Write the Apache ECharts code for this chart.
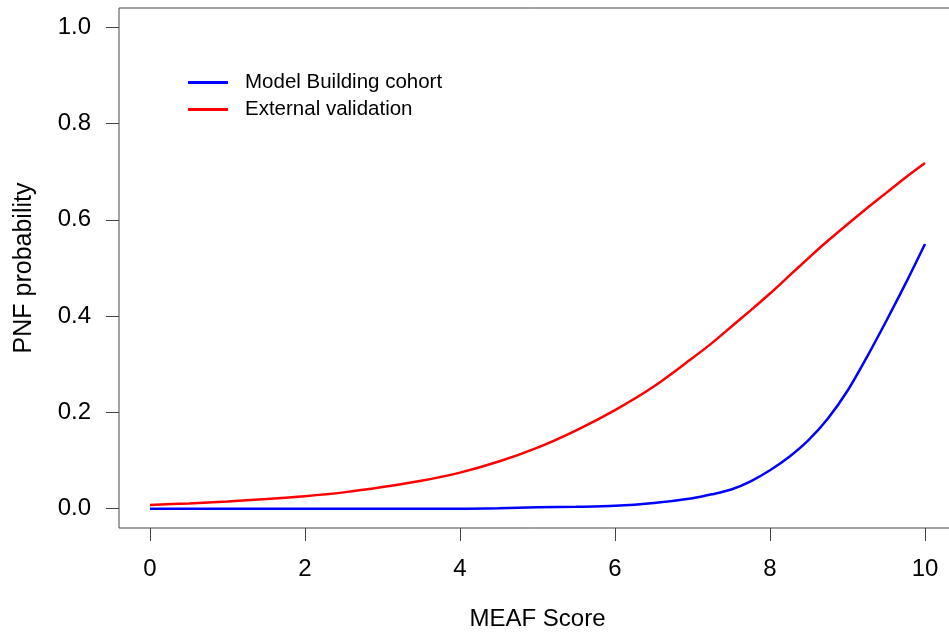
<!DOCTYPE html>
<html>
<head>
<meta charset="utf-8">
<script src="https://cdn.jsdelivr.net/npm/echarts@6/dist/echarts.min.js"></script>
<style>
  html, body { margin:0; padding:0; background:#fff; }
  #chart { width:949px; height:633px; }
</style>
</head>
<body>
<div id="chart"></div>
<script>
// ---- data -----------------------------------------------------------------
const scores = [0, 0.5, 1, 1.5, 2, 2.5, 3, 3.5, 4, 4.5, 5, 5.5, 6, 6.5, 7, 7.25, 7.5, 7.75, 8, 8.25, 8.5, 8.75, 9, 9.25, 9.5, 9.75, 10];
const modelBuilding = [0.000, 0.000, 0.000, 0.000, 0.000, 0.000, 0.000, 0.000, 0.000, 0.001, 0.003, 0.004, 0.006, 0.012, 0.022, 0.030, 0.040, 0.057, 0.080, 0.108, 0.143, 0.188, 0.245, 0.315, 0.390, 0.468, 0.550];
const externalValidation = [0.008, 0.011, 0.015, 0.020, 0.026, 0.034, 0.045, 0.058, 0.075, 0.098, 0.127, 0.163, 0.205, 0.254, 0.313, 0.344, 0.378, 0.412, 0.447, 0.484, 0.521, 0.557, 0.591, 0.624, 0.656, 0.688, 0.718];
const xTicks = [0, 2, 4, 6, 8, 10];
const yTicks = [0, 0.2, 0.4, 0.6, 0.8, 1.0];
const seriesNames = ['Model Building cohort', 'External validation'];

const FONT = '"Liberation Sans", Arial, sans-serif';
const AXIS = '#444';

const chart = echarts.init(document.getElementById('chart'), null, { renderer: 'canvas' });

const pairs = (ys) => scores.map((x, i) => [x, ys[i]]);

chart.setOption({
  backgroundColor: '#fff',
  animation: false,
  // R-style box: axes padded 4% beyond the data range; the box runs off the right edge
  grid: { left: 119, right: -7, top: 8, bottom: 105, show: true, borderColor: AXIS, borderWidth: 1,
    containLabel: false, outerBoundsMode: 'none' },
  legend: {
    orient: 'vertical', left: 183, top: 66,
    icon: 'rect', itemWidth: 40, itemHeight: 3, itemGap: 4,
    data: seriesNames,
    textStyle: { fontFamily: FONT, fontSize: 20.5, lineHeight: 23, color: '#000', padding: [0, 0, 0, 12] }
  },
  xAxis: {
    type: 'value', min: -0.4, max: 10.4,
    name: 'MEAF Score', nameLocation: 'middle', nameGap: 79,
    nameTextStyle: { fontFamily: FONT, fontSize: 24, color: '#000' },
    axisLine: { show: false, onZero: false },
    axisTick: { show: true, length: 13, lineStyle: { color: AXIS }, customValues: xTicks },
    axisLabel: { fontFamily: FONT, fontSize: 24, color: '#000', margin: 29, customValues: xTicks },
    splitLine: { show: false }
  },
  yAxis: {
    type: 'value', min: -0.04, max: 1.04,
    name: 'PNF probability', nameLocation: 'middle', nameGap: 82,
    nameTextStyle: { fontFamily: FONT, fontSize: 25, color: '#000' },
    axisLine: { show: false, onZero: false },
    axisTick: { show: true, length: 13, lineStyle: { color: AXIS }, customValues: yTicks },
    axisLabel: { fontFamily: FONT, fontSize: 24, color: '#000', margin: 28, customValues: yTicks,
      formatter: (v) => v.toFixed(1) },
    splitLine: { show: false }
  },
  series: [
    { name: seriesNames[0], type: 'line', data: pairs(modelBuilding), showSymbol: false, symbol: 'none', smooth: 0.3,
      itemStyle: { color: '#0000ff' }, lineStyle: { color: '#0000ff', width: 2.5 } },
    { name: seriesNames[1], type: 'line', data: pairs(externalValidation), showSymbol: false, symbol: 'none', smooth: 0.3,
      itemStyle: { color: '#ff0000' }, lineStyle: { color: '#ff0000', width: 2.5 } }
  ]
});
</script>
</body>
</html>
